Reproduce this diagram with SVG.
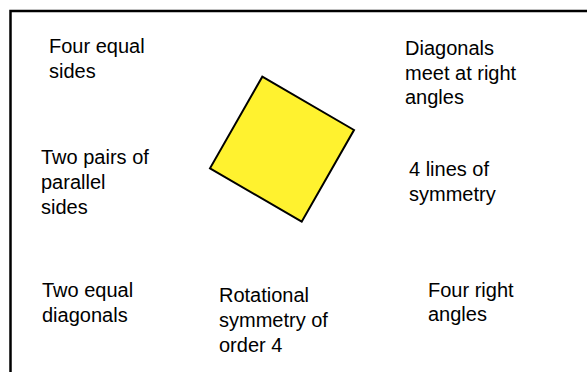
<svg xmlns="http://www.w3.org/2000/svg" width="587" height="372" viewBox="0 0 587 372">
<style>
.t{font-family:"Liberation Sans",Arial,sans-serif;font-size:20px;fill:#000}
.frame{fill:none;stroke:#000;stroke-width:2.5}
.sq{fill:#fff22f;stroke:#000;stroke-width:2;stroke-linejoin:miter}
</style>
<rect width="587" height="372" fill="#fff"/>
<path class="frame" d="M10.5 372 V11 H587"/>
<g id="square"><polygon class="sq" points="262.3,76.7 354,130 301.7,221.7 210,168.3"/></g>
<g id="four-equal-sides"><text class="t" x="49" y="53">Four equal</text><text class="t" x="49" y="77.5">sides</text></g>
<g id="diagonals-meet"><text class="t" x="405" y="55">Diagonals</text><text class="t" x="405" y="79.5">meet at right</text><text class="t" x="405" y="104">angles</text></g>
<g id="two-pairs-parallel"><text class="t" x="41" y="164">Two pairs of</text><text class="t" x="41" y="189">parallel</text><text class="t" x="41" y="214">sides</text></g>
<g id="four-lines-symmetry"><text class="t" x="409" y="176">4 lines of</text><text class="t" x="409" y="200.5">symmetry</text></g>
<g id="two-equal-diagonals"><text class="t" x="42" y="297">Two equal</text><text class="t" x="42" y="321.5">diagonals</text></g>
<g id="rotational-symmetry"><text class="t" x="219" y="301.5">Rotational</text><text class="t" x="219" y="326.5">symmetry of</text><text class="t" x="219" y="351.5">order 4</text></g>
<g id="four-right-angles"><text class="t" x="428" y="296.5">Four right</text><text class="t" x="428" y="321">angles</text></g>
</svg>
